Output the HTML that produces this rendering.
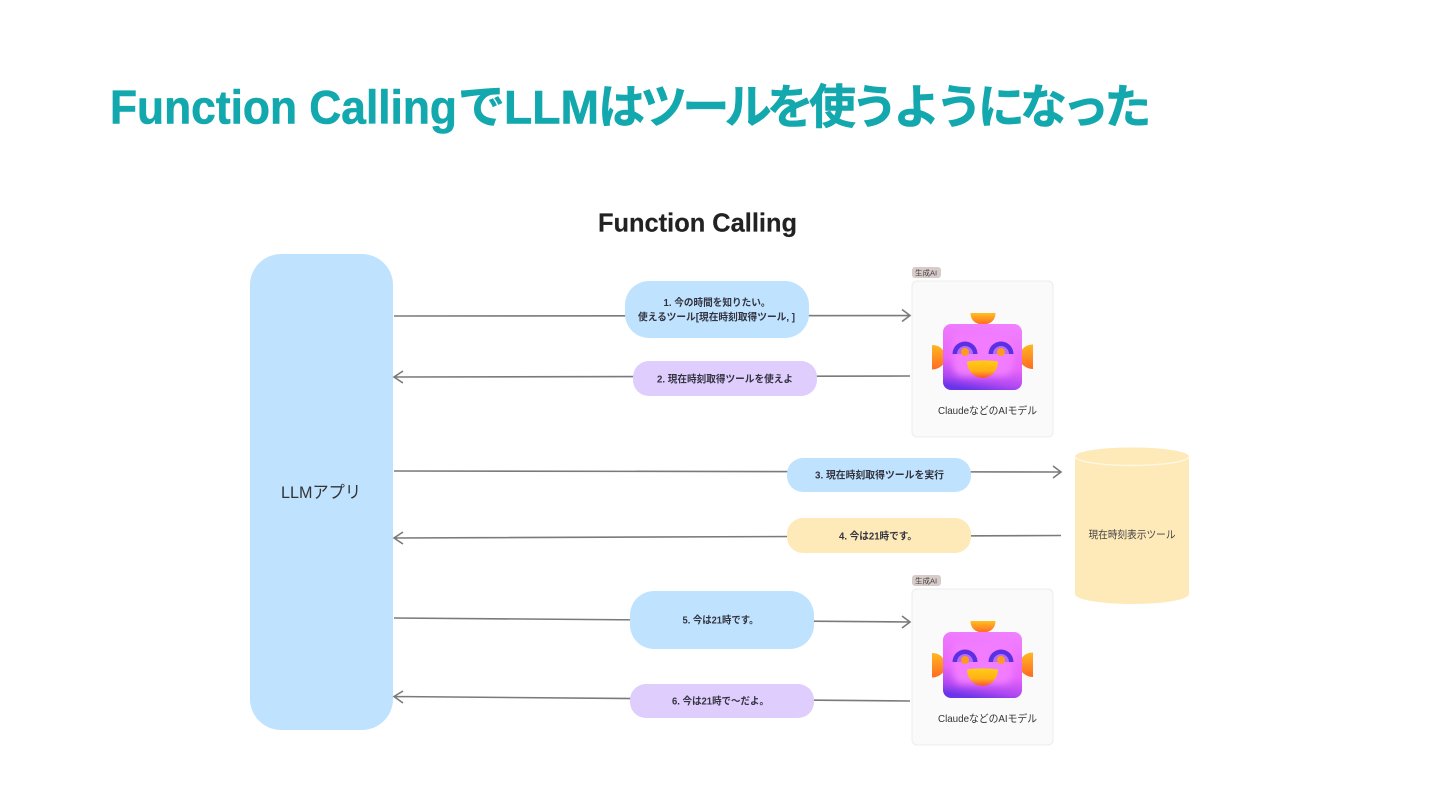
<!DOCTYPE html>
<html lang="ja">
<head>
<meta charset="utf-8">
<title>Function Calling</title>
<style>
html,body{margin:0;padding:0;background:#fff;width:1440px;height:810px;overflow:hidden}
svg{display:block}
text{font-family:"Liberation Sans","Noto Sans CJK JP",sans-serif}
.lb{font-size:10px;font-weight:700;fill:#333340;text-anchor:middle}
.ln{stroke:#7a7a7a;stroke-width:1.6;fill:none}
.t{font-weight:700;fill:#12a8ad;stroke:#12a8ad;stroke-linejoin:round}
</style>
</head>
<body>
<svg width="1440" height="810" viewBox="0 0 1440 810" xmlns="http://www.w3.org/2000/svg">
<defs>
<linearGradient id="body" x1="0.6" y1="0" x2="0.4" y2="1">
<stop offset="0" stop-color="#f080ff"/><stop offset="0.6" stop-color="#e765f8"/><stop offset="0.86" stop-color="#b048f2"/><stop offset="1" stop-color="#6a35e8"/>
</linearGradient>
<linearGradient id="org" x1="0" y1="0" x2="0" y2="1">
<stop offset="0" stop-color="#ffc01e"/><stop offset="1" stop-color="#ff6a26"/>
</linearGradient>
<linearGradient id="mouth" x1="0" y1="0" x2="0" y2="1">
<stop offset="0" stop-color="#ffcc14"/><stop offset="0.6" stop-color="#ffb016"/><stop offset="1" stop-color="#fb4f3c"/>
</linearGradient>
<linearGradient id="earL" x1="0" y1="0" x2="0" y2="1">
<stop offset="0" stop-color="#ffb820"/><stop offset="1" stop-color="#ff6a24"/>
</linearGradient>
<filter id="soft" x="-30%" y="-30%" width="160%" height="160%"><feGaussianBlur stdDeviation="3.500"/></filter>
<clipPath id="bodyClip"><rect x="943" y="324" width="79" height="66" rx="8"/></clipPath>
<g id="bot">
<rect x="912" y="281" width="141" height="156" rx="5" fill="#fafafa" stroke="#ececec"/>
<rect x="912" y="267" width="29" height="11" rx="3" fill="#d8ccca"/>
<text x="926" y="275.500" font-size="7.500" text-anchor="middle" fill="#444">生成AI</text>
<path d="M970.500 313h25c0 7-5 11.500-12.500 11.500s-12.500-4.500-12.500-11.500z" fill="url(#org)"/>
<path d="M932 345c5 0 9 2 11.500 6v13c-2.500 3-6.500 5.500-11.500 5.500z" fill="url(#earL)"/>
<path d="M1033 344.500c-5 0-9 2-11.500 6v13c2.500 3 6.500 5.500 11.500 5.500z" fill="url(#earL)"/>
<rect x="943" y="324" width="79" height="66" rx="8" fill="url(#body)"/>
<g clip-path="url(#bodyClip)"><rect x="953" y="332" width="60" height="44" rx="10" fill="#f27cff" filter="url(#soft)"/></g>
<path d="M952.500 354a12.500 12.500 0 0 1 25 0z" fill="#5b2fe4"/>
<path d="M988.500 354a12.500 12.500 0 0 1 25 0z" fill="#5b2fe4"/>
<path d="M957 354a8 8 0 0 1 16 0z" fill="#b86cf5"/>
<path d="M993 354a8 8 0 0 1 16 0z" fill="#b86cf5"/>
<circle cx="965" cy="352" r="4" fill="#ff9a20"/>
<circle cx="1001" cy="352" r="4" fill="#ff9a20"/>
<path d="M967 361.500c10-1.500 21-1.500 31 0c0 9-7 16.500-15.500 16.500s-15.500-7.500-15.500-16.500z" fill="url(#mouth)"/>
<text x="987.500" y="414" font-size="10.500" text-anchor="middle" fill="#333" textLength="99" lengthAdjust="spacingAndGlyphs">ClaudeなどのAIモデル</text>
</g>
</defs>

<rect width="1440" height="810" fill="#fff"/>

<text class="t" x="110" y="123.500" font-size="47" stroke-width="0.6" textLength="347" lengthAdjust="spacingAndGlyphs">Function Calling</text>
<text class="t" x="458" y="123.500" font-size="47" stroke-width="0.6">で</text>
<text class="t" x="504" y="123.500" font-size="47" stroke-width="0.6" textLength="95" lengthAdjust="spacingAndGlyphs">LLM</text>
<text class="t" x="598" y="123.500" font-size="47" stroke-width="0.6" letter-spacing="-4.800">はツールを使うようになった</text>

<text x="598" y="231.500" font-size="26" font-weight="700" fill="#222" stroke="#222" stroke-width="0.2" textLength="199" lengthAdjust="spacingAndGlyphs">Function Calling</text>

<rect x="250" y="254" width="143" height="476" rx="31" fill="#bfe3fe"/>
<text x="321" y="498" font-size="17" text-anchor="middle" fill="#333" textLength="80" lengthAdjust="spacingAndGlyphs">LLMアプリ</text>

<!-- connectors -->
<path class="ln" d="M394 316L910 315.500M902 309.500L910 315.500L902 321.500"/>
<path class="ln" d="M910 376L394 377M403 371L394 377L403 383"/>
<path class="ln" d="M394 471L1061 472M1053 466L1061 472L1053 478"/>
<path class="ln" d="M1061 535.500L394 538M403 532L394 538L403 544"/>
<path class="ln" d="M394 618L910 622M902 616L910 622L902 628"/>
<path class="ln" d="M910 701L394 696.500M403 691L394 696.500L403 703"/>

<!-- pills -->
<rect x="625" y="281" width="184" height="57" rx="24" fill="#bfe3fe"/>
<text class="lb" x="717" y="306" textLength="107" lengthAdjust="spacingAndGlyphs">1. 今の時間を知りたい。</text>
<text class="lb" x="716.500" y="320.500" textLength="157" lengthAdjust="spacingAndGlyphs">使えるツール[現在時刻取得ツール, ]</text>

<rect x="633" y="361" width="184" height="35" rx="16" fill="#dfcdfd"/>
<text class="lb" x="725" y="382.500" textLength="136" lengthAdjust="spacingAndGlyphs">2. 現在時刻取得ツールを使えよ</text>

<rect x="787" y="458" width="184" height="34" rx="16" fill="#bfe3fe"/>
<text class="lb" x="879.500" y="478.500" textLength="129" lengthAdjust="spacingAndGlyphs">3. 現在時刻取得ツールを実行</text>

<rect x="787" y="518" width="184" height="35" rx="16" fill="#feeab8"/>
<text class="lb" x="878" y="539.500" textLength="78" lengthAdjust="spacingAndGlyphs">4. 今は21時です。</text>

<rect x="630" y="591" width="184" height="58" rx="24" fill="#bfe3fe"/>
<text class="lb" x="720.500" y="623.500" textLength="76" lengthAdjust="spacingAndGlyphs">5. 今は21時です。</text>

<rect x="630" y="684" width="184" height="34" rx="16" fill="#dfcdfd"/>
<text class="lb" x="720.500" y="704.500" textLength="97" lengthAdjust="spacingAndGlyphs">6. 今は21時で〜だよ。</text>

<!-- cards -->
<use href="#bot"/>
<use href="#bot" y="308"/>

<!-- cylinder -->
<path d="M1075 456.500V594c0 5.500 25 10 57 10s57-4.500 57-10V456.500z" fill="#feeab8"/>
<ellipse cx="1132" cy="456.500" rx="57" ry="9" fill="#feeab8"/>
<path d="M1075 456.500a57 9 0 0 0 114 0" fill="none" stroke="#fff7e2" stroke-width="1.400"/>
<text x="1132" y="538" font-size="10.500" text-anchor="middle" fill="#444" textLength="87" lengthAdjust="spacingAndGlyphs">現在時刻表示ツール</text>
</svg>
</body>
</html>
